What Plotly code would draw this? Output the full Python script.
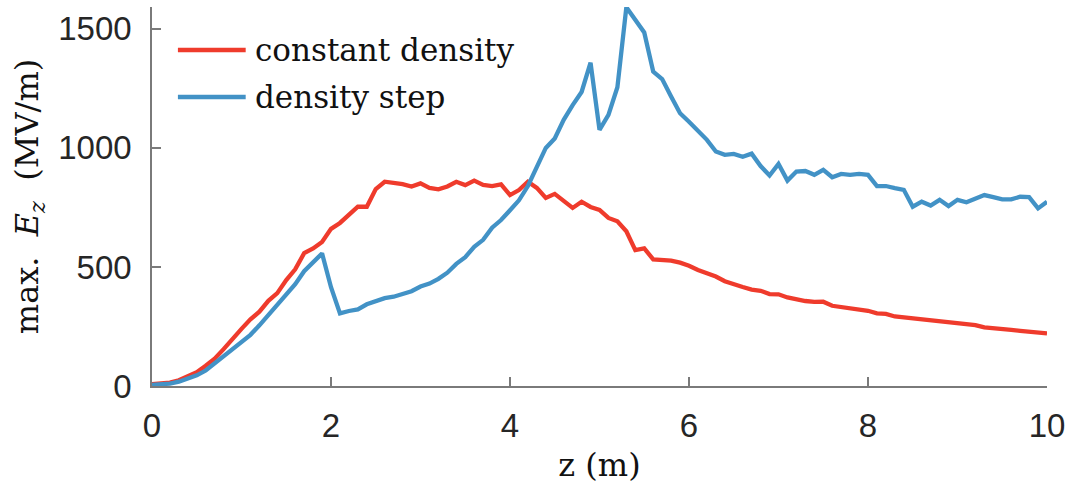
import plotly.graph_objects as go

# longitudinal position along the plasma (m), 0.1 m steps
z_m = [round(0.1 * k, 1) for k in range(101)]

# peak longitudinal field for a uniform plasma (MV/m)
ez_constant = [
    8, 10, 14, 24, 40, 58, 85, 115, 155, 200,
    240, 280, 312, 358, 390, 445, 490, 558, 578, 605,
    660, 685, 718, 753, 753, 827, 858, 853, 848, 838,
    851, 832, 826, 838, 858, 844, 863, 845, 840, 847,
    802, 823, 858, 832, 790, 807, 776, 748, 774, 752,
    740, 706, 692, 650, 571, 578, 532, 528, 527, 518,
    505, 487, 475, 460, 440, 430, 416, 405, 400, 386,
    385, 372, 363, 357, 353, 354, 337, 331, 326, 321,
    316, 305, 303, 292, 288, 283, 278, 274, 269, 266,
    262, 257, 256, 246, 244, 241, 236, 232, 228, 225,
    221,
]

# peak longitudinal field with a density step (MV/m)
ez_step = [
    5, 6, 10, 18, 30, 45, 65, 95, 122, 150,
    180, 215, 255, 298, 343, 389, 428, 482, 522, 557,
    415, 305, 315, 322, 343, 356, 369, 375, 385, 398,
    418, 430, 450, 476, 513, 541, 585, 614, 665, 697,
    738, 780, 840, 915, 1000, 1040, 1118, 1180, 1235, 1358,
    1076, 1139, 1255, 1591, 1538, 1485, 1321, 1289, 1216, 1146,
    1110, 1073, 1034, 985, 971, 975, 963, 976, 924, 884,
    933, 863, 901, 903, 887, 908, 877, 891, 887, 891,
    887, 840, 840, 831, 824, 753, 774, 758, 782, 756,
    782, 772, 788, 802, 793, 784, 784, 795, 793, 746,
    774,
]

series_names = ["constant density", "density step"]
series_colors = ["#EF3B2C", "#4292C6"]

x_ticks = [0, 2, 4, 6, 8, 10]
y_ticks = [0, 500, 1000, 1500]

W, H = 1072, 488
M_L, M_R, M_T, M_B = 152, 22, 7, 102

fig = go.Figure()
for name, ys, col in zip(series_names, [ez_constant, ez_step], series_colors):
    fig.add_trace(go.Scatter(
        x=z_m, y=ys, mode="lines", name=name,
        line=dict(color=col, width=4.3), showlegend=False,
    ))

axis_gray = "#7a7a7a"
tick_font = dict(family="Liberation Sans, Arial, sans-serif", size=33, color="#262626")
serif = "DejaVu Serif, Liberation Serif, serif"
title_font = dict(family=serif, size=32, color="#111111")

fig.update_xaxes(
    range=[0, 10], tickvals=x_ticks, ticktext=[str(v) for v in x_ticks],
    showline=True, linecolor=axis_gray, linewidth=1.5, mirror=False,
    ticks="inside", ticklen=9, tickcolor=axis_gray, tickwidth=1.5,
    showgrid=False, zeroline=False, tickfont=tick_font, ticklabelstandoff=10,
    title=dict(text="z (m)", font=title_font, standoff=10),
)
fig.update_yaxes(
    range=[0, 1592], tickvals=y_ticks, ticktext=[str(v) for v in y_ticks],
    showline=True, linecolor=axis_gray, linewidth=1.5, mirror=False,
    ticks="inside", ticklen=9, tickcolor=axis_gray, tickwidth=1.5,
    showgrid=False, zeroline=False, tickfont=tick_font, ticklabelstandoff=12,
    title=dict(text="max.&nbsp; <i>E</i><sub><i>z</i></sub>&nbsp; (MV/m)",
               font=title_font, standoff=10),
)

# legend drawn as key lines plus labels in the upper-left corner
pw = W - M_L - M_R
ph = H - M_T - M_B
legend_rows = [(50, series_names[0], series_colors[0]), (97, series_names[1], series_colors[1])]
for py, label, col in legend_rows:
    yp = 1 - (py - M_T) / ph
    x0 = (178 - M_L) / pw
    x1 = (246 - M_L) / pw
    fig.add_shape(type="line", xref="paper", yref="paper", x0=x0, x1=x1, y0=yp, y1=yp,
                  line=dict(color=col, width=4.3))
    fig.add_annotation(xref="paper", yref="paper", x=(253 - M_L) / pw, y=yp,
                       xanchor="left", yanchor="middle", showarrow=False, text=label,
                       font=dict(family=serif, size=31, color="#111111"))

fig.update_layout(
    width=W, height=H,
    margin=dict(l=M_L, r=M_R, t=M_T, b=M_B),
    paper_bgcolor="white", plot_bgcolor="white",
)

fig.write_html("out.html")
